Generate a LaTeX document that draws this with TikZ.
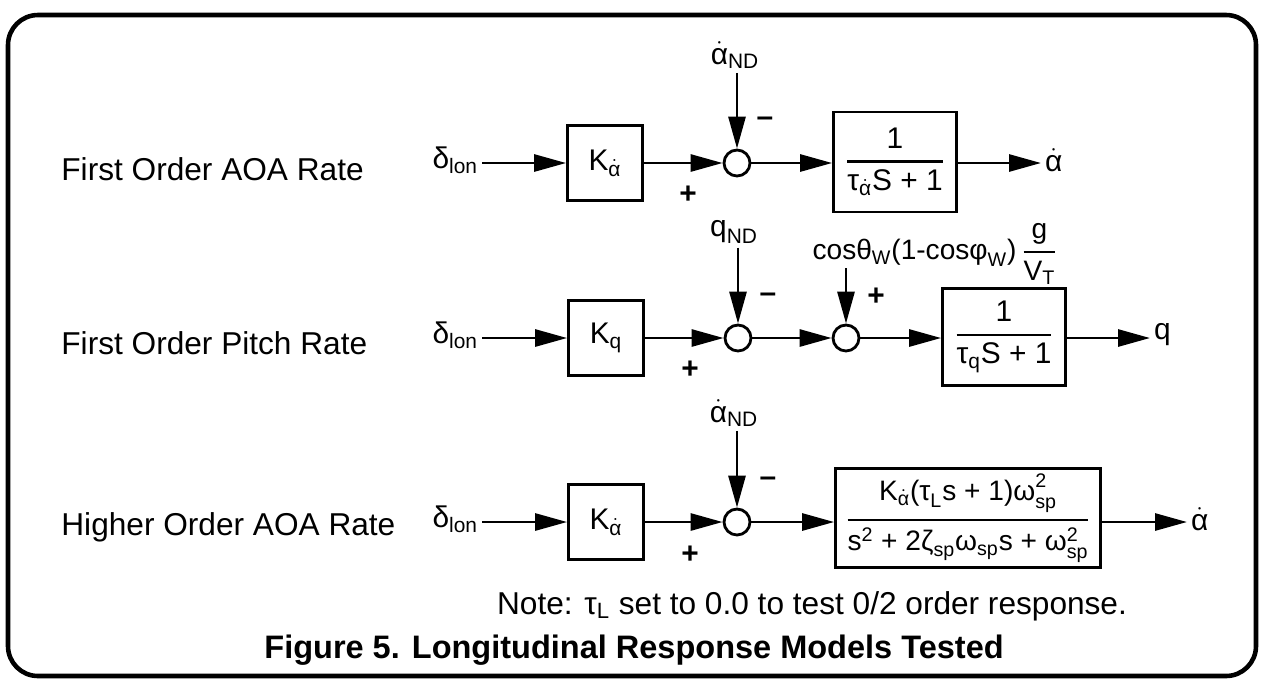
\documentclass[tikz,border=0pt]{standalone}
\usepackage{amsmath}
\usepackage{fontspec}
\setmainfont{Liberation Sans}
\usetikzlibrary{arrows.meta,positioning}

\newcommand{\adot}{\dot{\text{α}}}
\newcommand{\blkfrac}[2]{\genfrac{}{}{1.3pt}{0}{#1}{#2}}

\begin{document}
\begin{tikzpicture}[x=0.02cm, y=-0.02cm, line width=1.6pt, >={Triangle[length=6.4mm,width=3.4mm]}]
    \tikzstyle{gain} = [rectangle, draw, fill=white, minimum width=1.5cm, minimum height=1.5cm, font=\fontsize{17}{20}\selectfont]
    \tikzstyle{tf} = [rectangle, draw, fill=white, inner sep=1mm, font=\fontsize{17}{20}\selectfont]
    \tikzstyle{sum} = [circle, draw, fill=white, minimum size=0.52cm, inner sep=0pt]
    \tikzstyle{sig} = [inner sep=1.5pt, font=\fontsize{17}{20}\selectfont]
    \tikzstyle{rowlabel} = [anchor=west, inner sep=0pt, font=\fontsize{18}{21}\selectfont]
    \tikzstyle{sgn} = [inner sep=0pt, font=\bfseries\fontsize{17}{20}\selectfont]

    \useasboundingbox (0,0) rectangle (1263,681);
    \draw[line width=2.6pt, rounded corners=6mm] (8,15) rectangle (1256,676);

    % first order AOA rate
    \node [rowlabel] (lab1) at (60,169) {First Order AOA Rate};
    \node [sig, anchor=east] (din1) at (482,160) {$\text{δ}_{\text{lon}}$};
    \node [gain] (k1) at (605,163) {$\text{K}_{\adot}$};
    \node [sum] (s1) at (737,163) {};
    \node [sig] (nd1) at (735,55) {$\adot_{\text{ND}}$};
    \node [sgn] (m1) at (765,122) {–};
    \node [sgn] (p1) at (688,195) {+};
    \node [tf, minimum width=2.46cm, minimum height=2cm] (tf1) at (895,162)
        {$\blkfrac{\text{1}}{\text{τ}_{\adot}\text{S + 1}}$};
    \node [sig, anchor=west] (out1) at (1041,160) {$\adot$};

    \draw [->] (din1.east |- s1) -- (k1);
    \draw [->] (k1) -- (s1);
    \draw [->] (nd1.south -| s1) -- (s1);
    \draw [->] (s1) -- (s1 -| tf1.west);
    \draw [->] (s1 -| tf1.east) -- (s1 -| out1.west);

    % first order pitch rate
    \node [rowlabel] (lab2) at (60,343) {First Order Pitch Rate};
    \node [sig, anchor=east] (din2) at (482,335) {$\text{δ}_{\text{lon}}$};
    \node [gain] (k2) at (606,338) {$\text{K}_{\text{q}}$};
    \node [sum] (s2a) at (738,338) {};
    \node [sum] (s2b) at (846,338) {};
    \node [sig] (nd2) at (734,232) {$\text{q}_{\text{ND}}$};
    \node [sig, font=\fontsize{16}{19}\selectfont] (grav) at (935,254)
        {$\text{cosθ}_{\text{W}}\text{(1-cosφ}_{\text{W}}\text{)}\,\blkfrac{\text{g}}{\text{V}_{\text{T}}}$};
    \node [sgn] (m2) at (768,298) {–};
    \node [sgn] (p2b) at (876,297) {+};
    \node [sgn] (p2) at (690,370) {+};
    \node [tf, minimum width=2.46cm, minimum height=1.94cm] (tf2) at (1004,337)
        {$\blkfrac{\text{1}}{\text{τ}_{\text{q}}\text{S + 1}}$};
    \node [sig, anchor=west] (out2) at (1150,335) {q};

    \draw [->] (din2.east |- s2a) -- (k2);
    \draw [->] (k2) -- (s2a);
    \draw [->] (nd2.south -| s2a) -- (s2a);
    \draw [->] (s2a) -- (s2b);
    \draw [->] ([yshift=-5pt]grav.base -| s2b) -- (s2b);
    \draw [->] (s2b) -- (s2b -| tf2.west);
    \draw [->] (s2b -| tf2.east) -- (s2b -| out2.west);

    % higher order AOA rate
    \node [rowlabel] (lab3) at (60,527) {Higher Order AOA Rate};
    \node [sig, anchor=east] (din3) at (482,519) {$\text{δ}_{\text{lon}}$};
    \node [gain] (k3) at (606,522) {$\text{K}_{\adot}$};
    \node [sum] (s3) at (737,522) {};
    \node [sig] (nd3) at (734,413) {$\adot_{\text{ND}}$};
    \node [sgn] (m3) at (768,482) {–};
    \node [sgn] (p3) at (690,555) {+};
    \node [tf, minimum width=5.3cm, minimum height=1.82cm, font=\fontsize{16}{19}\selectfont] (tf3) at (968,518)
        {$\blkfrac{\text{K}_{\adot}\text{(τ}_{\text{L}}\text{s + 1)ω}^{\text{2}}_{\text{sp}}}
                {\text{s}^{\text{2}}\text{ + 2ζ}_{\text{sp}}\text{ω}_{\text{sp}}\text{s + ω}^{\text{2}}_{\text{sp}}}$};
    \node [sig, anchor=west] (out3) at (1187,519) {$\adot$};

    \draw [->] (din3.east |- s3) -- (k3);
    \draw [->] (k3) -- (s3);
    \draw [->] (nd3.south -| s3) -- (s3);
    \draw [->] (s3) -- (s3 -| tf3.west);
    \draw [->] (s3 -| tf3.east) -- (s3 -| out3.west);

    \node [font=\fontsize{18}{21}\selectfont] (note) at (812,606)
        {Note: $\text{τ}_{\text{L}}$ set to 0.0 to test 0/2 order response.};
    \node [font=\bfseries\fontsize{18.5}{22}\selectfont] (cap) at (634,650)
        {Figure 5. Longitudinal Response Models Tested};
\end{tikzpicture}
\end{document}
